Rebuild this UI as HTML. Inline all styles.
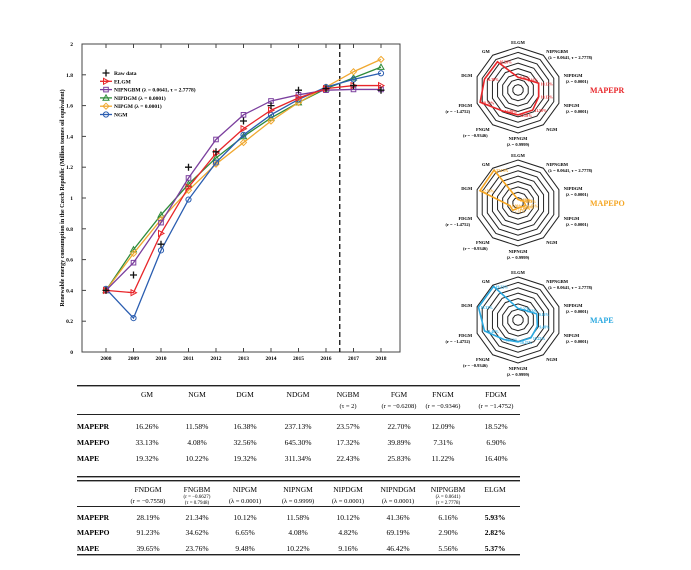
<!DOCTYPE html>
<html><head><meta charset="utf-8"><style>
body{margin:0;background:#fff;width:691px;height:570px;overflow:hidden;font-family:"Liberation Serif",serif}
svg{position:absolute;left:0;top:0}
</style></head><body>
<svg id="s" width="691" height="570" font-family="Liberation Serif, serif"></svg>
<script>
const years=[2008,2009,2010,2011,2012,2013,2014,2015,2016,2017,2018];
const yTicks=[0,0.2,0.4,0.6,0.8,1,1.2,1.4,1.6,1.8,2];
const rawData=[0.40,0.50,0.70,1.20,1.30,1.50,1.60,1.70,1.71,1.73,1.70];
const elgm=[0.40,0.385,0.77,1.07,1.29,1.45,1.57,1.65,1.71,1.73,1.73];
const nipngbm=[0.40,0.58,0.84,1.13,1.38,1.54,1.63,1.67,1.70,1.705,1.705];
const nipdgm=[0.40,0.665,0.89,1.09,1.26,1.40,1.52,1.62,1.71,1.78,1.85];
const nipgm=[0.40,0.64,0.86,1.05,1.22,1.36,1.50,1.62,1.72,1.82,1.90];
const ngm=[0.41,0.22,0.66,0.99,1.23,1.41,1.54,1.64,1.72,1.77,1.81];
const radarAxes=["ELGM","NIPNGBM","NIPDGM","NIPGM","NGM","NIPNGM","FNGM","FDGM","DGM","GM"];
const radarSub=["","(λ = 0.0641, τ = 2.7778)","(λ = 0.0001)","(λ = 0.0001)","","(λ = 0.9999)","(r = −0.9346)","(r = −1.4752)","",""];
const mapepr=[5.93,6.16,10.12,10.12,11.58,11.58,12.09,18.52,16.38,16.26];
const mapepo=[2.82,2.90,4.82,6.65,4.08,4.08,7.31,6.90,32.56,33.13];
const mape=[5.37,5.56,9.16,9.48,10.22,10.22,11.22,16.40,19.32,19.32];

const S=document.getElementById('s');const NS='http://www.w3.org/2000/svg';
function mk(t,a,p){const e=document.createElementNS(NS,t);for(const k in a)e.setAttribute(k,a[k]);(p||S).appendChild(e);return e;}
function tx(x,y,s,a,p){const e=mk('text',Object.assign({x:x,y:y},a),p);e.textContent=s;return e;}
const X0=82,X1=400,Y0=44,Y1=352;
const xs=i=>106+i*27.5, ys=v=>Y1-(v/2)*(Y1-Y0);
let g=mk('g',{});
let r=mk('rect',{x:X0,y:Y0,width:X1-X0,height:Y1-Y0,fill:'none',stroke:'#444','stroke-width':1},g);

yTicks.forEach(v=>{mk('line',{x1:X0,x2:X0+4,y1:ys(v),y2:ys(v),stroke:'#444'},g);
 let t=tx(X0-9,ys(v)+2,String(v),{'font-size':5.5,'font-weight':'bold','text-anchor':'end'},g);
 });
years.forEach((y,i)=>{mk('line',{x1:xs(i),x2:xs(i),y1:Y1,y2:Y1-4,stroke:'#444'},g);mk('line',{x1:xs(i),x2:xs(i),y1:Y0,y2:Y0+4,stroke:'#444'},g);
 let t=tx(xs(i),Y1+8,String(y),{'font-size':5.5,'font-weight':'bold','text-anchor':'middle'},g);
 });
let yt=tx(0,0,'Renewable energy consumption in the Czech Republic (Million tonnes oil equivalent)',{'font-size':6,'font-weight':'bold','text-anchor':'middle',transform:'translate(64,198) rotate(-90)'},g);

let dl=mk('line',{x1:(xs(8)+xs(9))/2,x2:(xs(8)+xs(9))/2,y1:Y0,y2:Y1,stroke:'#111','stroke-width':1.3,'stroke-dasharray':'5,3'},g);

function marker(type,x,y,c,p){
 if(type==='plus'){mk('path',{d:`M${x-3.5},${y}h7M${x},${y-3.5}v7`,stroke:'#111','stroke-width':1.3},p);}
 else if(type==='tri-r'){mk('path',{d:`M${x-2.5},${y-3}L${x+3},${y}L${x-2.5},${y+3}Z`,fill:'none',stroke:c,'stroke-width':1},p);}
 else if(type==='sq'){mk('rect',{x:x-2.3,y:y-2.3,width:4.6,height:4.6,fill:'none',stroke:c,'stroke-width':1},p);}
 else if(type==='tri'){mk('path',{d:`M${x},${y-3}L${x+3},${y+2.3}L${x-3},${y+2.3}Z`,fill:'none',stroke:c,'stroke-width':1},p);}
 else if(type==='dia'){mk('path',{d:`M${x},${y-3}L${x+3},${y}L${x},${y+3}L${x-3},${y}Z`,fill:'none',stroke:c,'stroke-width':1},p);}
 else if(type==='circ'){mk('circle',{cx:x,cy:y,r:2.6,fill:'none',stroke:c,'stroke-width':1},p);}
}
const series=[[nipdgm,'#2e8b3a','tri','series-nipdgm'],[nipgm,'#f0a830','dia','series-nipgm'],[ngm,'#2a5db0','circ','series-ngm'],[nipngbm,'#7b3f9e','sq','series-nipngbm'],[elgm,'#e8262a','tri-r','series-elgm']];
series.forEach(([d,c,m,n])=>{let sg=mk('g',{},g);
 mk('polyline',{points:d.map((v,i)=>xs(i)+','+ys(v)).join(' '),fill:'none',stroke:c,'stroke-width':1.3},sg);
 d.forEach((v,i)=>marker(m,xs(i),ys(v),c,sg));});
let rg=mk('g',{},g);
rawData.forEach((v,i)=>marker('plus',xs(i),ys(v),'#111',rg));
const leg=[['Raw data','#111','plus',false],['ELGM','#e8262a','tri-r',true],['NIPNGBM (λ = 0.0641, τ = 2.7778)','#7b3f9e','sq',true],['NIPDGM (λ = 0.0001)','#2e8b3a','tri',true],['NIPGM (λ = 0.0001)','#f0a830','dia',true],['NGM','#2a5db0','circ',true]];
let lg=mk('g',{},g);
leg.forEach(([t,c,m,l],i)=>{const y=73+i*8.3;let e=mk('g',{},lg);
 if(l)mk('line',{x1:100,x2:112,y1:y,y2:y,stroke:c,'stroke-width':1.3},e);marker(m,106,y,c,e);
 tx(114,y+2,t,{'font-size':5.5,'font-weight':'bold'},e);});

function radar(cy,vals,max,color,title,name){
 const cx=518,R=43;let rg=mk('g',{});
 const pt=(i,f)=>{const a=-Math.PI/2+i*2*Math.PI/10;return [cx+R*f*Math.cos(a),cy+R*f*Math.sin(a)];};
 for(let k=1;k<=8;k++){mk('polygon',{points:radarAxes.map((_,i)=>pt(i,k/8).join(',')).join(' '),fill:'none',stroke:'#222','stroke-width':1},rg);}
 radarAxes.forEach((a,i)=>{const [x,y]=pt(i,1);
  const [lx,ly]=pt(i,1.12);const anc=Math.abs(lx-cx)<3?'middle':(lx>cx?'start':'end');
  let t=tx(lx,ly+2,a,{'font-size':4.5,'font-weight':'bold','text-anchor':anc},rg);
  if(radarSub[i])tx(lx+(anc==='start'?2:anc==='end'?-2:0),ly+8,radarSub[i],{'font-size':4.5,'font-weight':'bold','text-anchor':anc},rg);});
 mk('polygon',{points:vals.map((v,i)=>pt(i,v/max).join(',')).join(' '),fill:'none',stroke:color,'stroke-width':1.6},rg);
 vals.forEach((v,i)=>{const [x,y]=pt(i,v/max);tx(x+2,y+2,v.toFixed(2)+'%',{'font-size':3.8,'font-weight':'bold',fill:color},rg);});
 let t=tx(590,cy+3,title,{'font-size':8,'font-weight':'bold',fill:color},rg);
}
radar(90,mapepr,20,'#e8262a','MAPEPR','radar-mapepr');
radar(203,mapepo,35,'#f5a623','MAPEPO','radar-mapepo');
radar(320,mape,20,'#29a8e0','MAPE','radar-mape');

function table(top,headers,rows,cols,hb,rowY,bot,boldLast,name){
 let tg=mk('g',{});
 mk('rect',{x:77,y:top,width:443,height:1.4,fill:'#222'},tg);
 mk('rect',{x:77,y:hb,width:443,height:1,fill:'#222'},tg);
 mk('rect',{x:77,y:bot,width:443,height:1.4,fill:'#222'},tg);
 headers.forEach((h,i)=>{h.forEach((l,j)=>{let t=tx(cols[i],top+12+j*(h.length>2?6:11),l[0],{'font-size':l[1]||7.5,'text-anchor':'middle'},tg);});});
 rows.forEach((r,ri)=>{let t=tx(77,rowY[ri],r[0],{'font-size':7.5,'font-weight':'bold'},tg);
  r.slice(1).forEach((v,i)=>{let c=tx(cols[i],rowY[ri],v,{'font-size':7.5,'text-anchor':'middle','font-weight':(boldLast&&i===7)?'bold':'normal'},tg);});});
}
table(385,[[['GM']],[['NGM']],[['DGM']],[['NDGM']],[['NGBM'],['(τ = 2)',6.5]],[['FGM'],['(r = −0.6208)',6.5]],[['FNGM'],['(r = −0.9346)',6.5]],[['FDGM'],['(r = −1.4752)',6.5]]],
 [['MAPEPR','16.26%','11.58%','16.38%','237.13%','23.57%','22.70%','12.09%','18.52%'],['MAPEPO','33.13%','4.08%','32.56%','645.30%','17.32%','39.89%','7.31%','6.90%'],['MAPE','19.32%','10.22%','19.32%','311.34%','22.43%','25.83%','11.22%','16.40%']],
 [147,197,245,298,348,399,443,496],414,[429,445,461],476,false,'table-1');
table(480,[[['FNDGM'],['(r = −0.7558)',6.5]],[['FNGBM'],['(r = −0.6627)',5],['(τ = 0.7948)',5]],[['NIPGM'],['(λ = 0.0001)',6.5]],[['NIPNGM'],['(λ = 0.9999)',6.5]],[['NIPDGM'],['(λ = 0.0001)',6.5]],[['NIPNDGM'],['(λ = 0.0001)',6.5]],[['NIPNGBM'],['(λ = 0.0641)',5],['(τ = 2.7778)',5]],[['ELGM']]],
 [['MAPEPR','28.19%','21.34%','10.12%','11.58%','10.12%','41.36%','6.16%','5.93%'],['MAPEPO','91.23%','34.62%','6.65%','4.08%','4.82%','69.19%','2.90%','2.82%'],['MAPE','39.65%','23.76%','9.48%','10.22%','9.16%','46.42%','5.56%','5.37%']],
 [148,197,245,298,348,398,448,495],506,[520,535,551],554,true,'table-2');
</script></body></html>
